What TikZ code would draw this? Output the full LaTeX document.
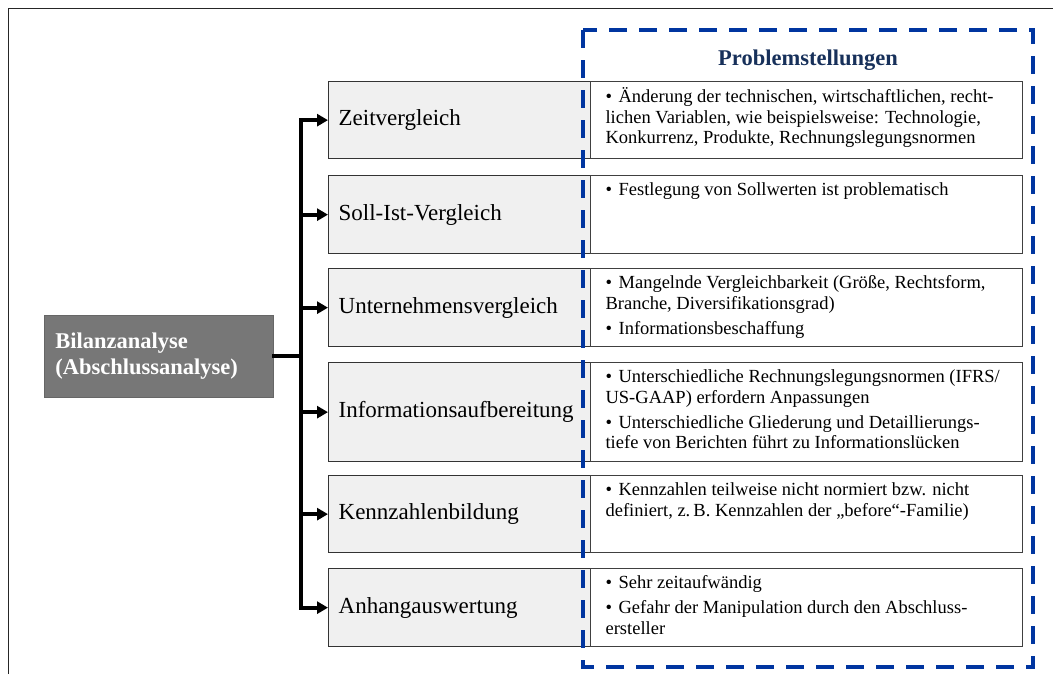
\documentclass[tikz,border=0pt]{standalone}
\usepackage{fontspec}
\setmainfont{Liberation Serif}
\usetikzlibrary{arrows.meta}

\definecolor{labfill}{HTML}{F0F0F0}
\definecolor{rootfill}{HTML}{777777}
\definecolor{dashblue}{HTML}{0035A0}
\definecolor{headnavy}{HTML}{17305A}

% bullet list inside the problem boxes
\newlength\bulw
\setlength\bulw{13pt}
\newcommand\pitem[1]{\par\hangindent=\bulw\hangafter=1\noindent
  \hbox to\bulw{\textbullet\hfil}\strut#1\par}
\newcommand\psep{\vspace{4.5pt}}
\newcommand\pbox[2]{%
  \begin{minipage}[c][#1][t]{432pt}%
    \fontsize{18.5}{20.5}\selectfont\raggedright
    \leftskip=15pt
    \vspace*{6pt}%
    #2%
  \end{minipage}}

\tikzset{
  x=1pt, y=-1pt,
  lab/.style={draw=black!80, line width=1.3pt, fill=labfill, anchor=north west,
    minimum width=262pt, text width=242pt, inner xsep=10pt, align=left,
    font=\fontsize{23}{26}\selectfont},
  prob/.style={draw=black!75, line width=1.2pt, fill=white, anchor=north west,
    inner sep=0pt},
  root/.style={draw=black!60, line width=0.8pt, fill=rootfill, anchor=north west,
    minimum width=229pt, minimum height=82pt, text width=207pt, inner xsep=11pt,
    align=left, text=white, font=\bfseries\fontsize{22.5}{26}\selectfont},
  bus/.style={line width=4pt, line cap=rect},
  arr/.style={line width=4pt, -{Triangle[length=11pt,width=12pt]}},
  frameline/.style={line width=0.9pt, draw=black!85},
  dashframe/.style={draw=dashblue, line width=4pt, dash pattern=on 18pt off 12pt},
}

\begin{document}
\begin{tikzpicture}
\useasboundingbox (0,0) rectangle (1053,675);

% outer frame
\draw[frameline] (8,674) -- (8,8) -- (1053,8);

% root box
\node[root] (root) at (44,315) {Bilanzanalyse\\(Abschlussanalyse)};

% row labels
\node[lab, minimum height=77pt] (l1) at (328,81)  {Zeitvergleich};
\node[lab, minimum height=78pt] (l2) at (328,175) {Soll-Ist-Vergleich};
\node[lab, minimum height=78pt] (l3) at (328,268) {Unternehmensvergleich};
\node[lab, minimum height=99pt] (l4) at (328,362) {Informationsaufbereitung};
\node[lab, minimum height=77pt] (l5) at (328,475) {Kennzahlenbildung};
\node[lab, minimum height=78pt] (l6) at (328,568) {Anhangauswertung};

% problem boxes
\node[prob] (p1) at (590,81) {\pbox{77pt}{%
  \pitem{Änderung der technischen, wirtschaftlichen, recht-\\lichen Variablen, wie beispielsweise: Technologie,\\Konkurrenz, Produkte, Rechnungslegungsnormen}}};
\node[prob] (p2) at (590,175) {\pbox{78pt}{%
  \pitem{Festlegung von Sollwerten ist problematisch}}};
\node[prob] (p3) at (590,268) {\pbox{78pt}{%
  \pitem{Mangelnde Vergleichbarkeit (Größe, Rechtsform,\\Branche, Diversifikationsgrad)}\psep
  \pitem{Informationsbeschaffung}}};
\node[prob] (p4) at (590,362) {\pbox{99pt}{%
  \pitem{Unterschiedliche Rechnungslegungsnormen (IFRS/\\US-GAAP) erfordern Anpassungen}\psep
  \pitem{Unterschiedliche Gliederung und Detaillierungs-\\tiefe von Berichten führt zu Informationslücken}}};
\node[prob] (p5) at (590,475) {\pbox{77pt}{%
  \pitem{Kennzahlen teilweise nicht normiert bzw. nicht\\definiert, z.\,B. Kennzahlen der „before“-Familie)}}};
\node[prob] (p6) at (590,568) {\pbox{78pt}{%
  \pitem{Sehr zeitaufwändig}\psep
  \pitem{Gefahr der Manipulation durch den Abschluss-\\ersteller}}};

% connectors
\coordinate (tx) at (301,0);
\draw[bus] (l1.west -| tx) -- (l6.west -| tx);
\draw[bus] (root.east) -- (root.east -| tx);
\foreach \i in {1,...,6}
  \draw[arr] (l\i.west -| tx) -- (l\i.west);

% dashed frame with heading
\draw[dashframe] (583,30) rectangle (1033,667);
\node[anchor=base, text=headnavy, font=\bfseries\fontsize{22.5}{26}\selectfont]
  (head) at (808,65) {Problemstellungen};
\end{tikzpicture}
\end{document}
